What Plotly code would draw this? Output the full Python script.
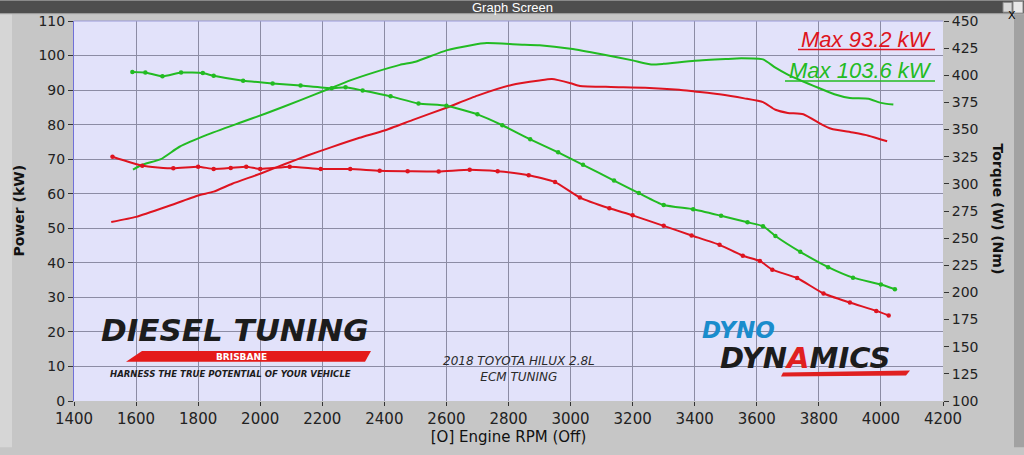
import plotly.graph_objects as go

# ---------------- data ----------------
red_power_rpm = [1520, 1600, 1700, 1800, 1850, 1910, 2000, 2080, 2150, 2230, 2320, 2400, 2490, 2600, 2700,
                 2810, 2900, 2940, 3000, 3030, 3130, 3240, 3350, 3400, 3480, 3560, 3620, 3660, 3700, 3750,
                 3810, 3840, 3910, 3960, 4020]
red_power_kw = [51.8, 53.3, 56.3, 59.5, 60.6, 62.9, 65.8, 68.6, 71.0, 73.5, 76.2, 78.3, 81.3, 84.9, 88.4,
                91.5, 92.8, 93.2, 92.0, 91.2, 90.9, 90.7, 90.1, 89.6, 88.8, 87.6, 86.5, 84.3, 83.4, 83.0,
                80.0, 78.8, 77.7, 76.8, 75.2]

green_power_rpm = [1590, 1620, 1680, 1740, 1830, 1930, 2020, 2130, 2220, 2290, 2370, 2450, 2500, 2600, 2680,
                   2730, 2830, 2900, 3000, 3100, 3200, 3260, 3300, 3400, 3500, 3550, 3620, 3660, 3700, 3800,
                   3850, 3900, 3960, 4000, 4040]
green_power_kw = [67.0, 68.4, 70.0, 73.6, 77.1, 80.4, 83.3, 87.1, 90.3, 92.8, 95.2, 97.3, 98.2, 101.5, 103.0,
                  103.6, 103.2, 103.0, 102.0, 100.4, 98.6, 97.4, 97.6, 98.5, 99.0, 99.2, 98.9, 96.5, 94.5, 90.6,
                  88.8, 87.7, 87.5, 86.3, 85.8]

green_torque_rpm = [1588, 1630, 1685, 1745, 1815, 1850, 1945, 2040, 2130, 2230, 2275, 2330, 2420, 2510, 2600,
                    2700, 2780, 2870, 2960, 3040, 3140, 3220, 3300, 3395, 3485, 3570, 3620, 3660, 3740, 3830,
                    3910, 4000, 4045]
green_torque_nm = [403, 402.5, 399, 402.5, 402, 399.5, 395, 392.5, 390.5, 388, 389, 386, 380.6, 374, 372,
                   364, 354, 341, 329, 317.5, 303, 291.5, 280.5, 276.6, 270.6, 264.6, 261, 252, 237.4, 223.3,
                   213.6, 207.3, 203]

red_torque_rpm = [1524, 1620, 1720, 1800, 1850, 1905, 1955, 2000, 2095, 2195, 2290, 2385, 2475, 2575, 2675,
                  2765, 2865, 2950, 3030, 3125, 3200, 3300, 3390, 3480, 3555, 3610, 3650, 3730, 3815, 3900,
                  3985, 4025]
red_torque_nm = [325, 316.7, 314.3, 315.8, 313.7, 314.6, 315.8, 313.7, 315.8, 313.7, 313.7, 312, 311.6, 311.3, 313,
                 311.6, 308, 301.6, 287.4, 277.5, 271, 261.3, 252.5, 243.8, 233.8, 229, 221, 213.3, 199, 190.7,
                 183, 178.8]

rpm_ticks = list(range(1400, 4201, 200))
power_ticks = list(range(0, 111, 10))
torque_ticks = list(range(100, 451, 25))

RED = "#de1420"
GREEN = "#22bb22"

# ---------------- geometry helpers (pixel -> paper) ----------------
W, H = 1024, 455
L, R, T, B = 74, 943, 21, 408


def px(x):
    return (x - L) / (R - L)


def py(y):
    return (B - y) / (B - T)


fig = go.Figure()

fig.add_trace(go.Scatter(x=red_power_rpm, y=red_power_kw, mode="lines",
                         line=dict(color=RED, width=2, shape="spline", smoothing=0.5),
                         yaxis="y", showlegend=False))
fig.add_trace(go.Scatter(x=green_power_rpm, y=green_power_kw, mode="lines",
                         line=dict(color=GREEN, width=2, shape="spline", smoothing=0.5),
                         yaxis="y", showlegend=False))
fig.add_trace(go.Scatter(x=red_torque_rpm, y=red_torque_nm, mode="lines+markers",
                         line=dict(color=RED, width=2, shape="spline", smoothing=0.5),
                         marker=dict(color=RED, size=4.5),
                         yaxis="y2", showlegend=False))
fig.add_trace(go.Scatter(x=green_torque_rpm, y=green_torque_nm, mode="lines+markers",
                         line=dict(color=GREEN, width=2, shape="spline", smoothing=0.5),
                         marker=dict(color=GREEN, size=4.5),
                         yaxis="y2", showlegend=False))

tickfont = dict(family="DejaVu Sans", size=14, color="#222222")

annotations = []
shapes = []

# title bar
shapes.append(dict(type="rect", xref="paper", yref="paper", x0=px(0), x1=px(W), y0=py(0), y1=py(13),
                   fillcolor="#4e4e4e", line=dict(width=0), layer="above"))
shapes.append(dict(type="line", xref="paper", yref="paper", x0=px(0), x1=px(W), y0=py(13.5), y1=py(13.5),
                   line=dict(color="#9a9a9a", width=1), layer="above"))
annotations.append(dict(text="Graph Screen", x=px(512), y=py(7), xref="paper", yref="paper",
                        showarrow=False, xanchor="center", yanchor="middle",
                        font=dict(family="Liberation Sans Narrow, Liberation Sans", size=13, color="white")))
# window icons
shapes.append(dict(type="rect", xref="paper", yref="paper", x0=px(1003), x1=px(1012), y0=py(2), y1=py(12),
                   fillcolor="#d8d8d8", line=dict(color="#888", width=1), layer="above"))
shapes.append(dict(type="rect", xref="paper", yref="paper", x0=px(1013), x1=px(1023), y0=py(1), y1=py(13),
                   fillcolor="#e8e8e8", line=dict(color="#888", width=1), layer="above"))
annotations.append(dict(text="X", x=px(1018), y=py(7), xref="paper", yref="paper", showarrow=False,
                        font=dict(family="DejaVu Sans", size=11, color="black")))
# side strips
shapes.append(dict(type="rect", xref="paper", yref="paper", x0=px(0), x1=px(12), y0=py(455), y1=py(14),
                   fillcolor="#d6d6d6", line=dict(width=0), layer="below"))
shapes.append(dict(type="rect", xref="paper", yref="paper", x0=px(1014), x1=px(1024), y0=py(455), y1=py(14),
                   fillcolor="#a2a2a2", line=dict(width=0), layer="below"))
# plot top border
shapes.append(dict(type="line", xref="paper", yref="paper", x0=0, x1=1, y0=1, y1=1,
                   line=dict(color="#9a9ad8", width=1)))

# axis titles
annotations.append(dict(text="<b>Power (kW)</b>", x=px(19), y=py(214), xref="paper", yref="paper",
                        showarrow=False, textangle=-90, xanchor="center", yanchor="middle",
                        font=dict(family="DejaVu Sans", size=14, color="#111")))
annotations.append(dict(text="<b>Torque (W) (Nm)</b>", x=px(998), y=py(213), xref="paper", yref="paper",
                        showarrow=False, textangle=90, xanchor="center", yanchor="middle",
                        font=dict(family="DejaVu Sans", size=14, color="#111")))

# max labels
red_max = max(red_power_kw)
green_max = max(green_power_kw)
annotations.append(dict(text=f"<i>Max {red_max:.1f} kW</i>", x=px(934), y=py(40), xref="paper", yref="paper",
                        showarrow=False, xanchor="right", yanchor="middle",
                        font=dict(family="Liberation Sans", size=22, color=RED)))
shapes.append(dict(type="line", xref="paper", yref="paper", x0=px(798), x1=px(935), y0=py(50), y1=py(50),
                   line=dict(color=RED, width=1.5)))
annotations.append(dict(text=f"<i>Max {green_max:.1f} kW</i>", x=px(934), y=py(71), xref="paper", yref="paper",
                        showarrow=False, xanchor="right", yanchor="middle",
                        font=dict(family="Liberation Sans", size=22, color=GREEN)))
shapes.append(dict(type="line", xref="paper", yref="paper", x0=px(785), x1=px(935), y0=py(82), y1=py(82),
                   line=dict(color=GREEN, width=1.5)))

# Diesel Tuning logo
annotations.append(dict(text="<b><i>DIESEL TUNING</i></b>",
                        x=px(99), y=py(336), xref="paper", yref="paper", showarrow=False,
                        xanchor="left", yanchor="middle",
                        font=dict(family="DejaVu Sans", size=31, color="#1c1c1c")))
shapes.append(dict(type="path", xref="paper", yref="paper",
                   path=f"M {px(126)} {py(368)} L {px(142)} {py(357)} L {px(371)} {py(357)} L {px(365)} {py(368)} Z",
                   fillcolor="#e41a1a", line=dict(width=0)))
annotations.append(dict(text="<b>BRISBANE</b>", x=px(241), y=py(363), xref="paper", yref="paper",
                        showarrow=False, xanchor="center", yanchor="middle",
                        font=dict(family="DejaVu Sans", size=9, color="white")))
annotations.append(dict(text="<b><i>HARNESS THE TRUE POTENTIAL OF YOUR VEHICLE</i></b>", x=px(230), y=py(380),
                        xref="paper", yref="paper", showarrow=False, xanchor="center", yanchor="middle",
                        font=dict(family="Liberation Sans Narrow, DejaVu Sans Condensed, Liberation Sans",
                                  size=9.5, color="#1c1c1c")))

# vehicle text
annotations.append(dict(text="<i>2018 TOYOTA HILUX 2.8L<br>ECM TUNING</i>", x=px(519), y=py(375),
                        xref="paper", yref="paper", showarrow=False, xanchor="center", yanchor="middle",
                        align="center",
                        font=dict(family="DejaVu Sans", size=12, color="#2a2a2a")))

# Dyno Dynamics logo
annotations.append(dict(text="<b><i>DYNO</i></b>", x=px(700), y=py(336), xref="paper", yref="paper",
                        showarrow=False, xanchor="left", yanchor="middle",
                        font=dict(family="DejaVu Sans", size=23, color="#1a8ccc")))
annotations.append(dict(text="<b><i>DYN<span style='color:#e02020'>A</span>MICS</i></b>", x=px(718), y=py(364),
                        xref="paper", yref="paper", showarrow=False, xanchor="left", yanchor="middle",
                        font=dict(family="DejaVu Sans", size=29, color="#1c1c1c")))
shapes.append(dict(type="path", xref="paper", yref="paper",
                   path=f"M {px(783)} {py(379)} L {px(910)} {py(377)} L {px(906)} {py(382)} L {px(781)} {py(383)} Z",
                   fillcolor="#e02020", line=dict(width=0)))

fig.update_layout(
    width=W, height=H,
    margin=dict(l=L, r=W - R, t=T, b=H - B),
    paper_bgcolor="#c6c6c6",
    plot_bgcolor="#e2e2fa",
    showlegend=False,
    xaxis=dict(range=[1400, 4200], tickvals=rpm_ticks, ticktext=[str(v) for v in rpm_ticks],
               showgrid=True, gridcolor="#8c8ca4", gridwidth=1, zeroline=False,
               ticks="outside", ticklen=4, tickcolor="#333", tickfont=dict(family="DejaVu Sans", size=15, color="#222"),
               showline=False,
               title=dict(text="[O] Engine RPM (Off)", font=dict(family="DejaVu Sans", size=15, color="#111"),
                          standoff=4)),
    yaxis=dict(range=[0, 110], tickvals=power_ticks, ticktext=[str(v) for v in power_ticks],
               showgrid=True, gridcolor="#8c8ca4", gridwidth=1, zeroline=False,
               ticks="outside", ticklen=5, tickcolor="#333", tickfont=tickfont,
               showline=True, linecolor="#7070d8", linewidth=1),
    yaxis2=dict(range=[100, 450], tickvals=torque_ticks, ticktext=[str(v) for v in torque_ticks],
                overlaying="y", side="right", showgrid=False, zeroline=False,
                ticks="outside", ticklen=5, tickcolor="#333", tickfont=tickfont, showline=False),
    annotations=annotations,
    shapes=shapes,
)

fig.write_html("out.html")
